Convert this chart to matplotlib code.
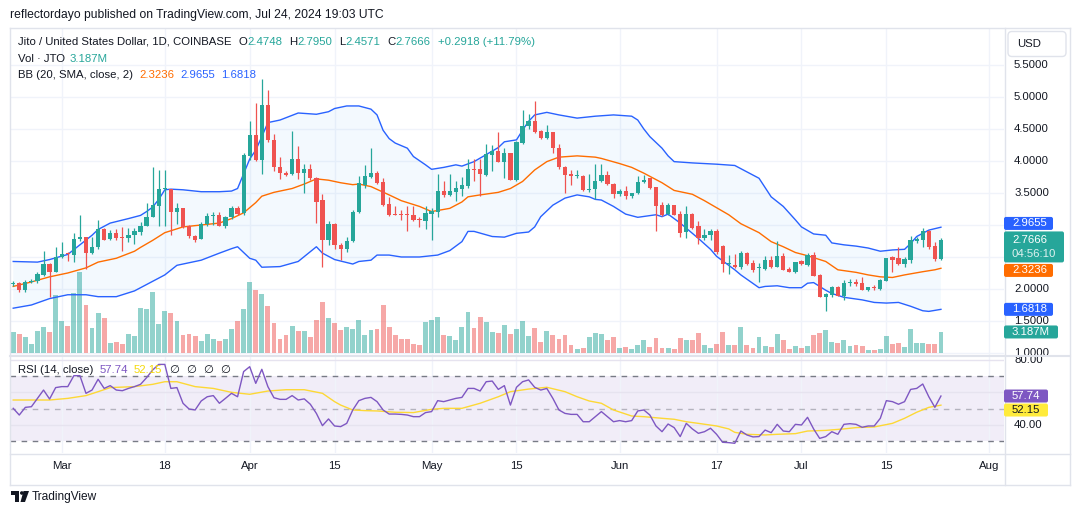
import numpy as np
import pandas as pd
import matplotlib
matplotlib.use('Agg')
import matplotlib.pyplot as plt
import matplotlib.dates as mdates
from matplotlib.patches import Polygon, FancyBboxPatch, Circle
from matplotlib.lines import Line2D
from matplotlib.transforms import blended_transform_factory, IdentityTransform

# ---------------------------------------------------------------- data
first_day = '2024-02-22'          # first visible daily candle
opens = [
    2.08, 2.10, 1.99, 2.11, 2.12, 2.22, 2.39, 2.27, 2.50, 2.56,
    2.53, 2.78, 2.81, 2.57, 2.65, 2.93, 2.78, 2.88, 2.80, 2.79,
    2.84, 2.89, 2.99, 3.13, 3.30, 3.56, 3.56, 3.21, 3.26, 2.98,
    2.83, 2.78, 3.02, 3.14, 3.15, 2.99, 3.12, 3.26, 3.18, 4.08,
    4.41, 4.02, 4.88, 4.33, 3.91, 3.82, 3.80, 4.03, 3.82, 3.87,
    3.73, 3.39, 2.77, 3.02, 2.68, 2.62, 2.75, 3.20, 3.62, 3.75,
    3.82, 3.67, 3.33, 3.17, 3.17, 3.16, 3.15, 3.09, 3.07, 3.17,
    3.20, 3.53, 3.47, 3.52, 3.56, 3.61, 3.87, 3.87, 3.78, 4.10,
    4.15, 3.99, 4.12, 3.70, 4.28, 4.54, 4.63, 4.47, 4.36, 4.45,
    4.21, 3.91, 3.80, 3.76, 3.77, 3.54, 3.56, 3.68, 3.78, 3.64,
    3.49, 3.53, 3.46, 3.50, 3.67, 3.73, 3.59, 3.31, 3.17, 3.31,
    3.17, 2.89, 3.17, 2.99, 2.80, 2.84, 2.91, 2.67, 2.39, 2.38,
    2.35, 2.57, 2.40, 2.33, 2.31, 2.45, 2.35, 2.52, 2.31, 2.27,
    2.43, 2.38, 2.53, 2.22, 1.88, 1.91, 2.03, 1.89, 2.10, 2.11,
    2.09, 1.98, 2.03, 2.00, 2.13, 2.50, 2.48, 2.39, 2.45, 2.75,
    2.77, 2.91, 2.67, 2.4748]
highs = [
    2.12, 2.11, 2.14, 2.15, 2.27, 2.59, 2.41, 2.65, 2.74, 2.58,
    2.87, 3.16, 2.82, 2.82, 3.08, 2.95, 2.92, 2.93, 2.97, 2.95,
    2.96, 3.05, 3.34, 3.91, 3.86, 3.86, 3.57, 3.35, 3.27, 3.00,
    2.84, 3.05, 3.18, 3.20, 3.20, 3.14, 3.30, 3.29, 4.12, 4.63,
    4.91, 5.28, 5.11, 4.42, 4.07, 3.84, 4.47, 4.23, 3.96, 3.95,
    3.75, 3.48, 3.06, 3.03, 2.72, 2.82, 3.23, 3.76, 3.94, 4.21,
    3.84, 3.74, 3.44, 3.29, 3.24, 3.29, 3.29, 3.13, 3.29, 3.26,
    3.80, 3.69, 3.80, 3.68, 3.75, 4.03, 4.03, 4.03, 4.27, 4.25,
    4.46, 4.20, 4.13, 4.32, 4.79, 4.74, 4.94, 4.49, 4.56, 4.46,
    4.26, 3.92, 3.86, 3.86, 3.78, 3.80, 3.96, 3.96, 3.84, 3.65,
    3.57, 3.61, 3.50, 3.77, 3.78, 3.74, 3.60, 3.36, 3.35, 3.32,
    3.22, 3.30, 3.18, 3.07, 2.93, 2.93, 2.93, 2.69, 2.53, 2.54,
    2.59, 2.58, 2.46, 2.41, 2.52, 2.51, 2.75, 2.57, 2.35, 2.42,
    2.45, 2.57, 2.58, 2.23, 1.94, 2.05, 2.05, 2.14, 2.15, 2.16,
    2.18, 2.03, 2.06, 2.15, 2.49, 2.52, 2.65, 2.50, 2.83, 2.82,
    2.95, 2.92, 2.73, 2.7950]
lows = [
    2.04, 1.95, 1.95, 2.10, 2.10, 2.21, 1.88, 2.26, 2.48, 2.43,
    2.42, 2.75, 2.31, 2.55, 2.62, 2.76, 2.76, 2.76, 2.60, 2.74,
    2.70, 2.85, 2.98, 3.12, 2.99, 2.99, 2.85, 3.02, 2.96, 2.80,
    2.74, 2.78, 2.98, 3.00, 2.98, 2.95, 3.10, 3.16, 3.16, 4.02,
    4.00, 3.79, 4.30, 3.85, 3.72, 3.76, 3.78, 3.72, 3.50, 3.70,
    3.03, 2.34, 2.68, 2.62, 2.45, 2.58, 2.74, 3.18, 3.58, 3.74,
    3.64, 3.29, 3.14, 3.15, 3.08, 2.91, 3.07, 2.97, 2.93, 2.77,
    3.13, 3.44, 3.46, 3.38, 3.45, 3.58, 3.68, 3.46, 3.76, 3.85,
    3.98, 3.74, 3.70, 3.69, 4.26, 4.50, 4.44, 4.35, 4.34, 4.13,
    3.87, 3.50, 3.63, 3.74, 3.53, 3.52, 3.40, 3.67, 3.63, 3.42,
    3.46, 3.40, 3.42, 3.49, 3.66, 3.57, 2.91, 3.14, 3.15, 3.15,
    2.82, 2.79, 2.93, 2.70, 2.77, 2.77, 2.54, 2.26, 2.24, 2.33,
    2.32, 2.37, 2.27, 2.11, 2.30, 2.33, 2.34, 2.29, 2.26, 2.25,
    2.37, 2.36, 2.20, 1.87, 1.66, 1.88, 1.89, 1.83, 2.05, 2.05,
    1.98, 1.97, 1.98, 1.99, 2.12, 2.27, 2.38, 2.35, 2.40, 2.72,
    2.66, 2.62, 2.44, 2.4571]
closes = [
    2.09, 1.99, 2.11, 2.13, 2.23, 2.39, 2.27, 2.50, 2.55, 2.54,
    2.78, 2.81, 2.57, 2.65, 2.93, 2.77, 2.88, 2.79, 2.79, 2.85,
    2.90, 2.99, 3.13, 3.31, 3.56, 3.58, 3.21, 3.26, 2.97, 2.83,
    2.77, 3.02, 3.14, 3.15, 2.99, 3.12, 3.26, 3.17, 4.09, 4.41,
    4.02, 4.88, 4.33, 3.91, 3.81, 3.78, 4.03, 3.82, 3.87, 3.73,
    3.36, 2.77, 3.02, 2.69, 2.62, 2.75, 3.20, 3.65, 3.76, 3.82,
    3.66, 3.31, 3.16, 3.15, 3.16, 3.15, 3.08, 3.08, 3.18, 3.22,
    3.53, 3.47, 3.53, 3.58, 3.62, 3.87, 3.86, 3.80, 4.11, 4.15,
    3.99, 4.12, 3.70, 4.29, 4.55, 4.63, 4.46, 4.36, 4.45, 4.21,
    3.90, 3.78, 3.76, 3.77, 3.54, 3.56, 3.69, 3.78, 3.64, 3.49,
    3.53, 3.46, 3.50, 3.67, 3.71, 3.58, 3.30, 3.15, 3.31, 3.16,
    2.88, 3.17, 2.96, 2.80, 2.84, 2.91, 2.58, 2.39, 2.40, 2.34,
    2.57, 2.39, 2.30, 2.34, 2.45, 2.35, 2.52, 2.30, 2.27, 2.42,
    2.39, 2.53, 2.21, 1.88, 1.92, 2.03, 1.89, 2.10, 2.11, 2.08,
    1.98, 2.03, 2.02, 2.14, 2.49, 2.46, 2.39, 2.47, 2.77, 2.78,
    2.91, 2.66, 2.47, 2.7666]
volumes_m = [
    3.2, 2.9, 2.5, 1.4, 3.3, 4.0, 3.2, 8.7, 4.8, 4.1,
    9.0, 12.2, 7.2, 3.8, 6.0, 5.3, 1.5, 1.7, 1.4, 2.9,
    2.6, 6.8, 6.6, 9.1, 4.4, 6.3, 6.0, 4.8, 2.7, 2.9,
    2.6, 1.8, 2.9, 2.1, 1.8, 2.2, 3.6, 4.8, 6.6, 10.6,
    9.5, 8.9, 7.1, 4.5, 2.1, 2.7, 4.1, 3.3, 3.3, 2.5,
    4.9, 7.7, 5.3, 4.5, 3.5, 3.9, 3.6, 5.0, 2.7, 3.5,
    3.6, 7.2, 4.0, 2.7, 2.1, 2.1, 1.4, 1.2, 4.7, 5.0,
    5.4, 2.7, 2.6, 2.0, 3.9, 6.2, 3.8, 5.4, 4.7, 3.2,
    3.0, 4.2, 2.9, 3.6, 4.8, 2.6, 3.8, 1.7, 3.3, 2.7,
    2.1, 2.7, 1.2, 0.65, 0.8, 2.4, 3.0, 2.9, 2.0, 2.4,
    0.8, 0.95, 0.65, 1.2, 2.0, 0.95, 2.3, 0.8, 0.8, 0.65,
    2.3, 2.0, 2.0, 3.0, 1.2, 0.8, 1.4, 3.2, 1.2, 1.2,
    3.9, 1.2, 0.8, 2.4, 1.1, 0.95, 2.9, 2.0, 0.65, 1.1,
    0.8, 1.1, 2.7, 3.0, 3.5, 1.7, 1.5, 2.0, 1.1, 1.2,
    1.1, 0.5, 0.5, 0.65, 2.6, 1.4, 1.5, 0.95, 3.6, 1.5,
    1.5, 1.4, 1.4, 3.187]
rsi_vals = [
    50.2, 46.1, 50.8, 51.2, 56.3, 61.4, 55.9, 62.9, 63.5, 63.5,
    70.2, 70.2, 59.4, 61.4, 68.0, 62.4, 64.1, 61.4, 61.0, 62.4,
    63.5, 64.9, 69.0, 73.7, 77.1, 77.1, 62.4, 62.9, 53.3, 49.8,
    49.2, 54.7, 57.3, 58.0, 53.3, 56.3, 59.4, 57.3, 72.7, 75.7,
    65.5, 74.1, 63.5, 56.7, 55.7, 55.7, 58.0, 55.3, 56.0, 52.7,
    47.1, 39.6, 43.7, 39.4, 39.0, 41.0, 49.2, 54.9, 56.3, 56.9,
    54.3, 49.2, 46.7, 46.7, 46.5, 46.1, 45.1, 45.1, 47.6, 48.2,
    54.9, 54.3, 55.3, 56.3, 56.9, 62.4, 62.4, 60.8, 66.5, 66.9,
    61.8, 64.1, 52.2, 63.1, 66.5, 67.6, 63.1, 61.4, 62.4, 56.3,
    49.2, 47.1, 46.5, 46.5, 42.0, 42.0, 45.1, 48.2, 45.1, 42.0,
    42.7, 42.0, 42.7, 48.6, 49.2, 46.1, 39.4, 35.9, 40.6, 38.4,
    32.9, 41.0, 37.6, 34.9, 35.9, 38.0, 34.3, 29.4, 29.2, 28.8,
    36.3, 33.9, 32.7, 32.9, 36.9, 35.3, 40.4, 36.3, 35.9, 40.4,
    40.0, 44.7, 37.6, 31.8, 32.9, 35.9, 34.3, 40.4, 40.8, 40.4,
    38.6, 39.4, 39.4, 44.1, 54.9, 54.3, 52.7, 54.3, 61.8, 62.4,
    65.1, 57.3, 50.8, 57.74]

# Bollinger Bands (20, SMA, close, 2): day index (0 = first_day) / value
bb_up_idx = [0, 4, 6, 9, 11, 13, 14, 16, 19, 21, 22, 23, 24, 25, 26, 28, 31, 34, 36, 37,
             38, 39, 40, 41, 42, 44, 47, 50, 52, 53, 55, 57, 59, 60, 61, 62, 63, 65, 66, 68,
             69, 71, 73, 74, 76, 78, 80, 81, 83, 84, 85, 86, 88, 90, 93, 96, 99, 102, 103, 104,
             105, 107, 108, 109, 112, 114, 116, 119, 121, 123, 125, 127, 129, 130, 132, 134, 135, 137, 139, 141,
             143, 145, 147, 148, 149, 151, 153]
bb_up_val = [2.43, 2.42, 2.46, 2.54, 2.69, 2.84, 2.93, 3.03, 3.10, 3.15, 3.21, 3.28, 3.40, 3.55, 3.56, 3.55, 3.52, 3.52, 3.53, 3.57,
             3.80, 4.03, 4.17, 4.38, 4.60, 4.64, 4.75, 4.73, 4.77, 4.82, 4.86, 4.86, 4.81, 4.72, 4.48, 4.35, 4.28, 4.20, 4.07, 3.94,
             3.87, 3.90, 3.94, 3.92, 3.99, 4.10, 4.21, 4.30, 4.33, 4.48, 4.62, 4.72, 4.76, 4.72, 4.67, 4.70, 4.72, 4.70, 4.64, 4.50,
             4.38, 4.20, 4.08, 3.99, 3.97, 3.96, 3.95, 3.93, 3.83, 3.73, 3.44, 3.29, 3.08, 2.97, 2.86, 2.84, 2.72, 2.69, 2.67, 2.64,
             2.59, 2.61, 2.62, 2.71, 2.82, 2.92, 2.9655]
bb_mid_idx = [0, 3, 6, 9, 12, 14, 17, 20, 21, 23, 25, 28, 31, 34, 36, 38, 40, 41, 43, 44,
              46, 48, 50, 52, 54, 56, 57, 59, 62, 64, 67, 69, 72, 74, 75, 77, 80, 82, 84, 86,
              88, 90, 93, 96, 97, 100, 102, 104, 107, 109, 112, 114, 116, 118, 120, 123, 125, 127, 129, 131,
              134, 136, 139, 141, 143, 145, 147, 150, 152, 153]
bb_mid_val = [2.04, 2.11, 2.19, 2.25, 2.33, 2.42, 2.48, 2.59, 2.65, 2.76, 2.88, 2.97, 3.00, 3.03, 3.10, 3.19, 3.35, 3.45, 3.51, 3.53,
              3.57, 3.64, 3.72, 3.70, 3.66, 3.63, 3.64, 3.60, 3.47, 3.38, 3.29, 3.21, 3.26, 3.36, 3.44, 3.47, 3.51, 3.57, 3.68, 3.86,
              3.99, 4.06, 4.08, 4.06, 4.04, 3.96, 3.90, 3.81, 3.66, 3.54, 3.48, 3.38, 3.27, 3.16, 3.02, 2.88, 2.74, 2.66, 2.57, 2.52,
              2.43, 2.30, 2.26, 2.22, 2.19, 2.18, 2.22, 2.27, 2.30, 2.3236]
bb_lo_idx = [0, 3, 6, 9, 12, 14, 17, 20, 23, 25, 27, 31, 34, 36, 37, 39, 40, 41, 44, 47,
             50, 51, 53, 56, 57, 59, 60, 62, 64, 67, 70, 72, 74, 75, 76, 79, 81, 83, 85, 86,
             87, 89, 91, 93, 95, 96, 97, 99, 101, 103, 106, 107, 108, 110, 112, 113, 115, 116, 119, 120,
             123, 124, 126, 128, 130, 131, 132, 134, 135, 137, 140, 142, 144, 146, 148, 150, 151, 153]
bb_lo_val = [1.70, 1.75, 1.85, 1.91, 1.91, 1.88, 1.88, 1.97, 2.12, 2.22, 2.37, 2.45, 2.56, 2.63, 2.66, 2.48, 2.45, 2.34, 2.35, 2.43,
             2.66, 2.56, 2.46, 2.39, 2.43, 2.45, 2.53, 2.53, 2.50, 2.50, 2.53, 2.60, 2.74, 2.90, 2.90, 2.82, 2.81, 2.87, 2.89, 2.97,
             3.13, 3.31, 3.42, 3.47, 3.44, 3.40, 3.39, 3.29, 3.17, 3.12, 3.16, 3.13, 3.17, 3.03, 2.87, 2.79, 2.62, 2.51, 2.30, 2.22,
             2.02, 2.04, 2.05, 2.02, 2.02, 2.09, 2.10, 1.98, 1.93, 1.87, 1.83, 1.79, 1.78, 1.79, 1.73, 1.66, 1.65, 1.6818]

# RSI-based moving average (yellow line)
rsi_ma_idx = [0, 6, 9, 12, 14, 16, 20, 23, 25, 27, 30, 33, 36, 39, 42, 45, 48, 51, 53, 54,
              56, 58, 60, 63, 66, 69, 71, 74, 77, 80, 82, 85, 88, 91, 93, 95, 97, 99, 102, 104,
              107, 109, 111, 113, 116, 118, 119, 121, 124, 126, 129, 131, 134, 137, 139, 142, 145, 147, 149, 151,
              153]
rsi_ma_val = [55.3, 55.3, 56.3, 58.0, 60.4, 62.9, 63.5, 64.9, 66.5, 66.5, 63.5, 62.4, 60.0, 58.8, 60.8, 61.6, 61.6, 59.4, 54.3, 52.2,
              49.2, 48.8, 48.6, 47.8, 47.6, 49.6, 50.2, 50.2, 53.3, 57.3, 60.4, 62.0, 63.1, 60.4, 57.3, 54.7, 53.3, 49.2, 45.5, 45.1,
              44.1, 43.5, 42.0, 41.0, 39.4, 37.6, 35.5, 34.3, 33.9, 34.3, 34.7, 36.3, 36.7, 37.6, 38.4, 38.8, 41.0, 44.1, 47.8, 50.8,
              52.15]

price_ticks = [1.0, 1.5, 2.0, 2.5, 3.0, 3.5, 4.0, 4.5, 5.0, 5.5]
rsi_ticks = [40, 60, 80]
time_tick_dates = ['2024-03-01', '2024-03-18', '2024-04-01', '2024-04-15', '2024-05-01',
                   '2024-05-15', '2024-06-01', '2024-06-17', '2024-07-01', '2024-07-15', '2024-08-01']
time_tick_labels = ['Mar', '18', 'Apr', '15', 'May', '15', 'Jun', '17', 'Jul', '15', 'Aug']

title = 'reflectordayo published on TradingView.com, Jul 24, 2024 19:03 UTC'
symbol_text = 'Jito / United States Dollar, 1D, COINBASE'
change_text = '+0.2918 (+11.79%)'
countdown = '04:56:10'

# ---------------------------------------------------------------- style
W, H = 1080, 515
FONT = ['Liberation Sans', 'DejaVu Sans']
plt.rcParams['font.family'] = FONT
UP, DN = '#26a69a', '#ef5350'
BLUE, ORANGE, PURPLE, YELLOW = '#2962ff', '#ff6d00', '#7e57c2', '#fdd835'
TXT = '#131722'
GRID = '#f0f3fa'
FRAME = '#e0e3eb'
FS = 8.2

fig = plt.figure(figsize=(W / 100, H / 100), dpi=100)
fig.patch.set_facecolor('white')


def rect(x0, y0, x1, y1):
    return [x0 / W, 1 - y1 / H, (x1 - x0) / W, (y1 - y0) / H]


ax_v = fig.add_axes(rect(10, 28, 1004, 355))
ax = fig.add_axes(rect(10, 28, 1004, 355))
ax_r = fig.add_axes(rect(10, 356, 1004, 453))
ax_pr = fig.add_axes(rect(1005, 28, 1070, 355))
ax_rr = fig.add_axes(rect(1005, 356, 1070, 453))
ax_v.set_zorder(0)
ax.set_zorder(1)
ax.patch.set_visible(False)
for a in (ax_v, ax, ax_r, ax_pr, ax_rr):
    for s in a.spines.values():
        s.set_visible(False)
    a.tick_params(left=False, right=False, bottom=False, top=False,
                  labelleft=False, labelbottom=False)

dates = pd.date_range(first_day, periods=len(closes), freq='D')
xs = mdates.date2num(dates.to_pydatetime())
o, h, l, c = map(np.asarray, (opens, highs, lows, closes))
up = c >= o
cols = np.where(up, UP, DN)

xlim = (xs[0] - 0.53, xs[0] + 163.4)
for a in (ax_v, ax, ax_r):
    a.set_xlim(*xlim)
ax.set_ylim(0.9686, 6.078)
ax_pr.set_ylim(0.9686, 6.078)
ax_v.set_ylim(-0.25, 48.55)
ax_r.set_ylim(22.85, 82.25)
ax_rr.set_ylim(22.85, 82.25)

tick_x = mdates.date2num(pd.to_datetime(time_tick_dates).to_pydatetime())

# grid (bottom layer)
hb = blended_transform_factory(ax_v.transAxes, ax.transData)
for p in price_ticks:
    ax_v.add_line(Line2D([0, 1], [p, p], transform=hb, color=GRID, lw=1.0, zorder=0))
for t in tick_x:
    ax_v.axvline(t, color=GRID, lw=1.0, zorder=0)

# volume
ax_v.bar(xs, volumes_m, width=0.8, color=cols, alpha=0.5, linewidth=0, zorder=2)

# Bollinger bands
ux, lx, mx = xs[bb_up_idx], xs[bb_lo_idx], xs[bb_mid_idx]
poly = np.column_stack([np.concatenate([ux, lx[::-1]]),
                        np.concatenate([bb_up_val, bb_lo_val[::-1]])])
ax.add_patch(Polygon(poly, closed=True, facecolor=(33 / 255, 150 / 255, 243 / 255, 0.05),
                     edgecolor='none', zorder=1))
ax.plot(ux, bb_up_val, color=BLUE, lw=1.0, zorder=2)
ax.plot(lx, bb_lo_val, color=BLUE, lw=1.0, zorder=2)
ax.plot(mx, bb_mid_val, color=ORANGE, lw=1.0, zorder=2)

# candles
ax.vlines(xs, l, h, colors=cols, lw=0.9, zorder=3)
body_h = np.maximum(np.abs(c - o), 0.016)
ax.bar(xs, body_h, bottom=np.minimum(o, c), width=0.7, color=cols, linewidth=0, zorder=4)

# RSI pane
ax_r.axhspan(30, 70, color=(126 / 255, 87 / 255, 194 / 255, 0.1), lw=0, zorder=0)
for t in tick_x:
    ax_r.axvline(t, color=GRID, lw=1.0, zorder=0.5)
for v in rsi_ticks:
    ax_r.axhline(v, color='#e6e3ef', lw=1.0, zorder=0.5)
ax_r.axhline(70, color='#787b86', lw=1.0, dashes=(4, 4), zorder=1)
ax_r.axhline(30, color='#787b86', lw=1.0, dashes=(4, 4), zorder=1)
ax_r.axhline(50, color='#787b86', alpha=0.5, lw=1.0, dashes=(4, 4), zorder=1)
ax_r.plot(xs[rsi_ma_idx], rsi_ma_val, color=YELLOW, lw=1.0, zorder=2)
ax_r.plot(xs, rsi_vals, color=PURPLE, lw=1.0, zorder=3)

# time axis labels
ax_r.set_xticks(tick_x)
ax_r.set_xticklabels(time_tick_labels)
ax_r.tick_params(axis='x', labelbottom=True, length=0, pad=5.5, labelsize=FS, labelcolor=TXT)

# ---------------------------------------------------------------- overlay (pixel coords, y from top)
ID = IdentityTransform()


def ytop(axis, value):
    return H - axis.transData.transform((xs[-1], value))[1]


def hline(x0, x1, y, lw=1.0, color=FRAME):
    fig.add_artist(Line2D([x0, x1], [H - y, H - y], transform=ID, color=color, lw=lw))


def vline(x, y0, y1, lw=1.0, color=FRAME):
    fig.add_artist(Line2D([x, x], [H - y0, H - y1], transform=ID, color=color, lw=lw))


hline(10, 1070, 28)
hline(10, 1070, 355.5, lw=1.5)
hline(10, 1070, 453.5)
hline(10, 1070, 485)
vline(10, 28, 485)
vline(1070, 28, 485)
vline(1004.5, 28, 485)

spans = []   # vertical pixel spans covered by price tags


def tag(yc, text, color, width=49, height=13, tcolor='white'):
    fig.add_artist(FancyBboxPatch((1004, H - yc - height / 2), width, height,
                                  boxstyle='round,pad=0,rounding_size=2', transform=ID,
                                  facecolor=color, edgecolor='none', zorder=5))
    fig.text(1012 / W, 1 - yc / H, text, color=tcolor, fontsize=FS, va='center',
             ha='left', zorder=6)
    spans.append((yc - height / 2, yc + height / 2))


# last price tag with countdown
y_last = ytop(ax, closes[-1])
g_top, g_bot = y_last - 8.5, y_last + 22.5
fig.add_artist(FancyBboxPatch((1004, H - g_bot), 60, g_bot - g_top,
                              boxstyle='round,pad=0,rounding_size=2', transform=ID,
                              facecolor=UP, edgecolor='none', zorder=5))
fig.text(1012 / W, 1 - y_last / H, f'{closes[-1]:.4f}', color='white', fontsize=FS,
         va='center', ha='left', zorder=6)
fig.text(1012 / W, 1 - (y_last + 14.5) / H, countdown, color='white', alpha=0.85,
         fontsize=FS, va='center', ha='left', zorder=6)
spans.append((g_top, g_bot))

y_u = min(ytop(ax, bb_up_val[-1]), g_top - 8)
tag(y_u, f'{bb_up_val[-1]:.4f}', BLUE)
y_m = max(ytop(ax, bb_mid_val[-1]), g_bot + 8)
tag(y_m, f'{bb_mid_val[-1]:.4f}', ORANGE)
tag(ytop(ax, bb_lo_val[-1]), f'{bb_lo_val[-1]:.4f}', BLUE)
tag(ytop(ax_v, volumes_m[-1]), f'{volumes_m[-1]:.3f}M', UP, width=54)

y_rsi = ytop(ax_r, rsi_vals[-1])
tag(y_rsi, f'{rsi_vals[-1]:.2f}', PURPLE, width=44)
y_rma = max(ytop(ax_r, rsi_ma_val[-1]), y_rsi + 14)
tag(y_rma, f'{rsi_ma_val[-1]:.2f}', '#ffeb3b', width=44, tcolor=TXT)


def hidden(y):
    return any(a - 3 <= y <= b + 3 for a, b in spans)


# right price scale labels (those under a tag are hidden, as on the chart)
tb = blended_transform_factory(ax_pr.transAxes, ax_pr.transData)
for p in price_ticks:
    if not hidden(ytop(ax_pr, p)):
        ax_pr.text(0.14, p, f'{p:.4f}', transform=tb, va='center', ha='left',
                   fontsize=FS, color=TXT, clip_on=True)
tr = blended_transform_factory(ax_rr.transAxes, ax_rr.transData)
for v in rsi_ticks:
    if not hidden(ytop(ax_rr, v)):
        ax_rr.text(0.14, v, f'{v:.2f}', transform=tr, va='center', ha='left',
                   fontsize=FS, color=TXT, clip_on=True)

# USD box
fig.add_artist(FancyBboxPatch((1008, H - 56.5), 58, 25, boxstyle='round,pad=0,rounding_size=4',
                              transform=ID, facecolor='white', edgecolor=FRAME, lw=1.0, zorder=5))
fig.text(1017 / W, 1 - 44 / H, 'USD', color=TXT, fontsize=FS, va='center', ha='left', zorder=6)

# header / legends
fig.text(10 / W, 1 - 15 / H, title, color=TXT, fontsize=8.7, va='center', ha='left')
renderer = fig.canvas.get_renderer()


def seq(y, parts, x=18):
    for txt, col, gap in parts:
        t = fig.text(x / W, 1 - y / H, txt, color=col, fontsize=FS, va='center', ha='left', zorder=6)
        x += t.get_window_extent(renderer=renderer).width + gap


seq(42, [(symbol_text, TXT, 7),
         ('O', TXT, 0), (f'{opens[-1]:.4f}', UP, 7),
         ('H', TXT, 0), (f'{highs[-1]:.4f}', UP, 7),
         ('L', TXT, 0), (f'{lows[-1]:.4f}', UP, 7),
         ('C', TXT, 0), (f'{closes[-1]:.4f}', UP, 7),
         (change_text, UP, 0)])
seq(58.5, [('Vol · JTO', TXT, 5), (f'{volumes_m[-1]:.3f}M', UP, 0)])
seq(75, [('BB (20, SMA, close, 2)', TXT, 6), (f'{bb_mid_val[-1]:.4f}', ORANGE, 6),
         (f'{bb_up_val[-1]:.4f}', BLUE, 6), (f'{bb_lo_val[-1]:.4f}', BLUE, 0)])
seq(370, [('RSI (14, close)', TXT, 6), (f'{rsi_vals[-1]:.2f}', PURPLE, 6),
          (f'{rsi_ma_val[-1]:.2f}', '#f5d90a', 7),
          ('∅', TXT, 7), ('∅', TXT, 7), ('∅', TXT, 7), ('∅', TXT, 0)])

# footer logo
fig.add_artist(Polygon([[10.5, H - 491], [19, H - 491], [19, H - 502], [15, H - 502],
                        [15, H - 494.5], [10.5, H - 494.5]], closed=True, transform=ID,
                       facecolor=TXT, edgecolor='none'))
fig.add_artist(Circle((21.8, H - 493), 1.8, transform=ID, facecolor=TXT, edgecolor='none'))
fig.add_artist(Polygon([[23.5, H - 491], [29, H - 491], [25, H - 502], [20.5, H - 502]],
                       closed=True, transform=ID, facecolor=TXT, edgecolor='none'))
fig.text(32 / W, 1 - 497 / H, 'TradingView', color=TXT, fontsize=8.6, va='center', ha='left')

fig.savefig('out.png', dpi=100, facecolor='white')
